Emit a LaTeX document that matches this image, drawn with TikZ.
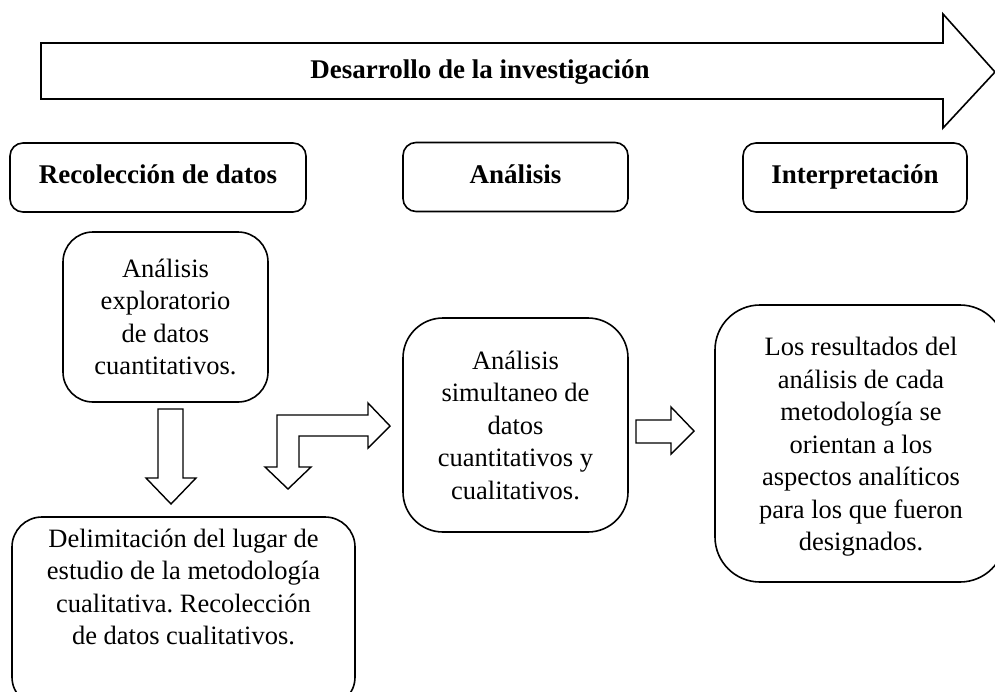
\documentclass[tikz,border=0pt]{standalone}
\usepackage{fontspec}
\setmainfont{Liberation Serif}
\frenchspacing
\begin{document}
\begin{tikzpicture}[x=1pt,y=-1pt,
  txt/.style={font=\fontsize{26.5}{32.5}\selectfont, align=center, inner sep=0pt},
  hdrtxt/.style={font=\fontsize{27}{32}\selectfont\bfseries, align=center, inner sep=0pt, text height=18pt, text depth=6pt},
  rbox/.style={draw, line width=1.6pt, rounded corners=#1, inner sep=0pt},
  blockarrow/.style={draw, line width=1.4pt, line join=miter, fill=white}]
\useasboundingbox (0,0) rectangle (995,691);
\clip (0,0) rectangle (995,691);

% big arrow
\draw[blockarrow, line width=1.6pt] (41,43) -- (943,43) -- (943,14) -- (995,72) -- (943,128) -- (943,99) -- (41,99) -- cycle;
\node[hdrtxt] (dev) at (480,72) {Desarrollo de la investigación};

% header boxes
\node[rbox=13pt, hdrtxt, minimum width=296pt, minimum height=69pt] (h1) at (158,177.5) {Recolección de datos};
\node[rbox=13pt, hdrtxt, minimum width=225pt, minimum height=69pt] (h2) at (515.5,177) {Análisis};
\node[rbox=13pt, hdrtxt, minimum width=224pt, minimum height=69pt] (h3) at (855,177.5) {Interpretación};

% content boxes
\node[rbox=30pt, txt, minimum width=205pt, minimum height=170pt] (a) at (165.5,317) {Análisis\\exploratorio\\de datos\\cuantitativos.};
\node[rbox=40pt, txt, minimum width=225pt, minimum height=214pt] (b) at (515.5,425) {Análisis\\simultaneo de\\datos\\cuantitativos y\\cualitativos.};
\node[rbox=45pt, minimum width=290pt, minimum height=277pt] (c) at (860,443.5) {};
\node[txt] (ctext) at (861,447) {Los resultados del\\análisis de cada\\metodología se\\orientan a los\\aspectos analíticos\\para los que fueron\\designados.};
\node[rbox=30pt, minimum width=343pt, minimum height=190pt] (d) at (183.5,612) {};
\node[txt] (dtext) at (183.5,587) {Delimitación del lugar de\\estudio de la metodología\\cualitativa. Recolección\\de datos cualitativos.};

% block arrows
\draw[blockarrow] (158,409) -- (183,409) -- (183,478) -- (196,478) -- (171,504) -- (146,478) -- (158,478) -- cycle;
\draw[blockarrow] (390,426) -- (368,448) -- (368,436) -- (299,436) -- (299,467) -- (311,467) -- (288,489) -- (265,467) -- (277,467) -- (277,415) -- (368,415) -- (368,403) -- cycle;
\draw[blockarrow] (636,420) -- (671,420) -- (671,407) -- (694,431) -- (671,454) -- (671,443) -- (636,443) -- cycle;
\end{tikzpicture}
\end{document}
